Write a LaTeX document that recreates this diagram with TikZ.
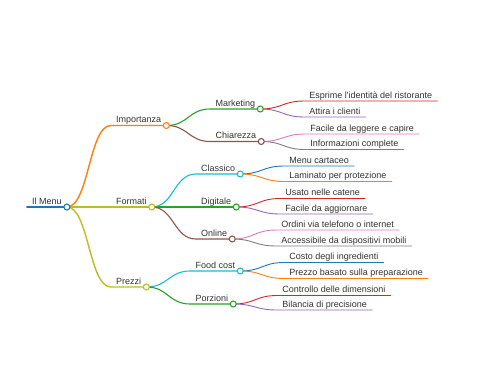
\documentclass[tikz,border=0pt]{standalone}
\usepackage{fontspec}
\setmainfont{Liberation Sans}[Ligatures=TeXOff]
\usepackage{xcolor}
\usetikzlibrary{calc}

% colori delle voci
\definecolor{cBlu}{HTML}{1F77B4}
\definecolor{cArancio}{HTML}{FF7F0E}
\definecolor{cVerde}{HTML}{2CA02C}
\definecolor{cRosso}{HTML}{D62728}
\definecolor{cViola}{HTML}{9467BD}
\definecolor{cMarrone}{HTML}{8C564B}
\definecolor{cRosa}{HTML}{E377C2}
\definecolor{cGrigio}{HTML}{7F7F7F}
\definecolor{cOliva}{HTML}{BCBD22}
\definecolor{cCiano}{HTML}{17BECF}
\definecolor{testo}{HTML}{333333}

\begin{document}
\begin{tikzpicture}[x=1pt, y=-1pt, line cap=round, line join=round,
  voce/.style={anchor=south west, inner xsep=5pt, inner ysep=2.8pt,
    text height=6.5pt, text depth=0pt, text=testo,
    font=\fontsize{9}{10}\selectfont},
  nodo/.style={fill=white, line width=1.1pt}]

% Sfondo
\fill[white] (0,0) rectangle (480,384);
\useasboundingbox (0,0) rectangle (480,384);

% Radice
\node[voce] (menu) at (27,207) {Il Menu};

% Primo livello
\node[voce] (imp)  at ($(menu.south east)+(44,-81.5)$) {Importanza};
\node[voce] (form) at ($(menu.south east)+(44,0)$)     {Formati};
\node[voce] (prez) at ($(menu.south east)+(44,80)$)    {Prezzi};

% Secondo livello
\node[voce] (mark) at ($(imp.south east)+(44,-16.5)$)  {Marketing};
\node[voce] (chia) at ($(imp.south east)+(44,16)$)     {Chiarezza};
\node[voce] (clas) at ($(form.south east)+(44,-33)$)   {Classico};
\node[voce] (digi) at ($(form.south east)+(44,0)$)     {Digitale};
\node[voce] (onl)  at ($(form.south east)+(44,32)$)    {Online};
\node[voce] (food) at ($(prez.south east)+(44,-16)$)   {Food cost};
\node[voce] (porz) at ($(prez.south east)+(44,17)$)    {Porzioni};

% Foglie
\node[voce] (espr) at ($(mark.south east)+(44,-8)$) {Esprime l\char"0027identità del ristorante};
\node[voce] (atti) at ($(mark.south east)+(44,8)$)   {Attira i clienti};
\node[voce] (faci) at ($(chia.south east)+(44,-7.5)$) {Facile da leggere e capire};
\node[voce] (info) at ($(chia.south east)+(44,8)$)   {Informazioni complete};
\node[voce] (cart) at ($(clas.south east)+(44,-8)$)  {Menu cartaceo};
\node[voce] (lami) at ($(clas.south east)+(44,7.5)$) {Laminato per protezione};
\node[voce] (cate) at ($(digi.south east)+(44,-8.5)$) {Usato nelle catene};
\node[voce] (aggi) at ($(digi.south east)+(44,7)$)   {Facile da aggiornare};
\node[voce] (ordi) at ($(onl.south east)+(44,-9)$)   {Ordini via telefono o internet};
\node[voce] (acce) at ($(onl.south east)+(44,7)$)    {Accessibile da dispositivi mobili};
\node[voce] (cost) at ($(food.south east)+(44,-8.5)$) {Costo degli ingredienti};
\node[voce] (prep) at ($(food.south east)+(44,7.5)$) {Prezzo basato sulla preparazione};
\node[voce] (dime) at ($(porz.south east)+(44,-8.5)$) {Controllo delle dimensioni};
\node[voce] (bila) at ($(porz.south east)+(44,6)$)   {Bilancia di precisione};

% Linea della radice
\draw[cBlu, line width=2pt] (menu.south west) -- (menu.south east);

% Rami e sottolineature
\foreach \p/\n/\c/\w in {menu/imp/cArancio/1.4, menu/form/cOliva/1.4, menu/prez/cOliva/1.4,
    imp/mark/cVerde/1.1, imp/chia/cMarrone/1.1, form/clas/cCiano/1.1,
    form/digi/cVerde/1.1, form/onl/cMarrone/1.1, prez/food/cCiano/1.1, prez/porz/cVerde/1.1,
    mark/espr/cRosso/0.9, mark/atti/cViola/0.9, chia/faci/cRosa/0.9, chia/info/cGrigio/0.9,
    clas/cart/cBlu/0.9, clas/lami/cArancio/0.9, digi/cate/cRosso/0.9, digi/aggi/cViola/0.9,
    onl/ordi/cRosa/0.9, onl/acce/cGrigio/0.9, food/cost/cBlu/0.9, food/prep/cArancio/0.9,
    porz/dime/cRosso/0.9, porz/bila/cViola/0.9}
  \draw[\c, line width=\w pt] (\p.south east) .. controls +(22,0) and +(-22,0) .. (\n.south west) -- (\n.south east);

% Cerchi
\foreach \n/\c in {menu/cBlu, imp/cArancio, form/cOliva, prez/cOliva, mark/cVerde, chia/cMarrone,
    clas/cCiano, digi/cVerde, onl/cMarrone, food/cCiano, porz/cVerde}
  \draw[\c, nodo] (\n.south east) circle[radius=3pt];

\end{tikzpicture}
\end{document}
